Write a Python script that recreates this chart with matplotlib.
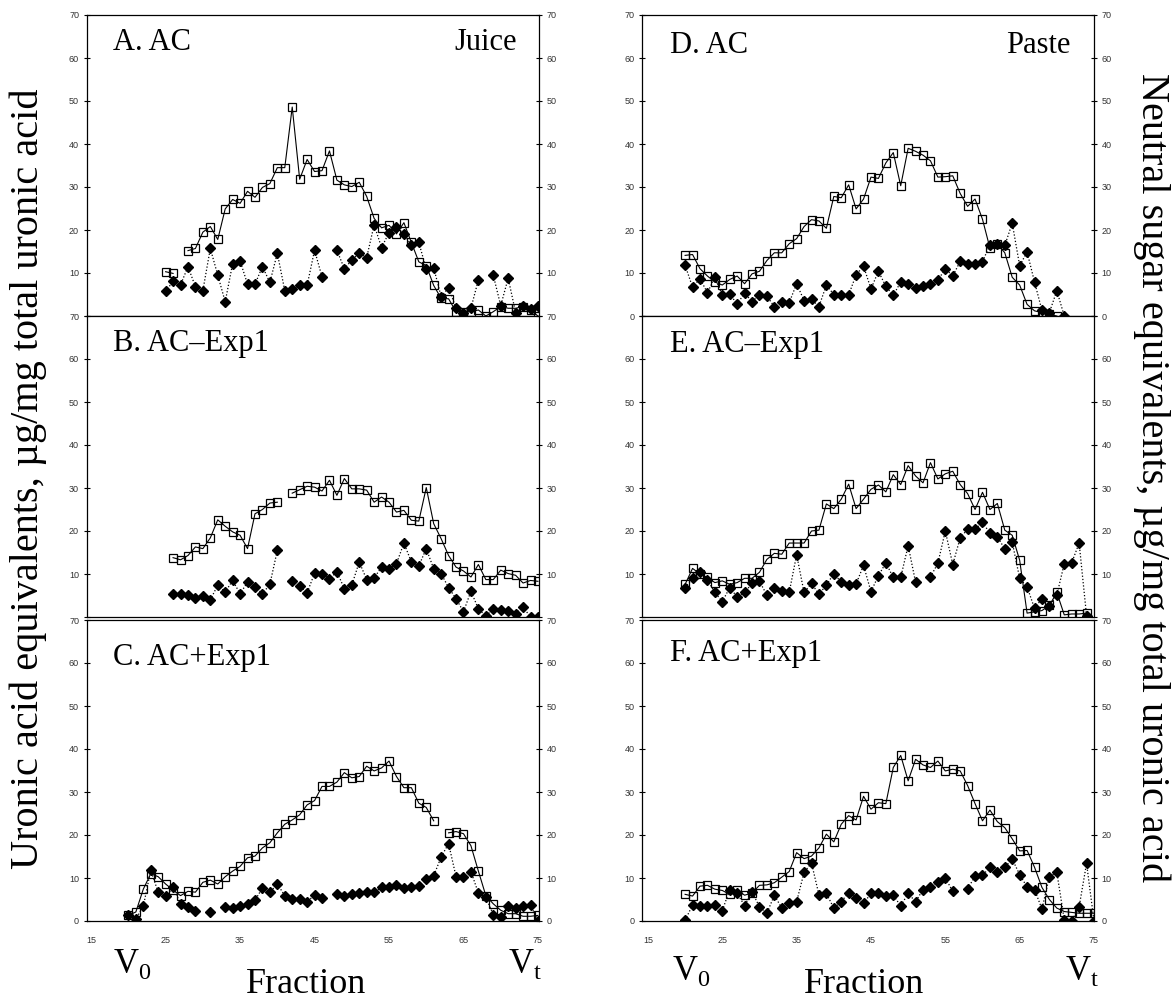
import numpy as np
import matplotlib.pyplot as plt

nan = np.nan

# fractions and values
frac_A = np.arange(25, 76)
uronic_A = [10.3, 9.9, nan, 15.2, 15.7, 19.5, 20.8, 17.8, 24.9, 27.1,
            26.2, 29.0, 27.6, 29.9, 30.8, 34.5, 34.5, 48.6, 31.8, 36.4,
            33.6, 33.8, 38.4, 31.6, 30.5, 30.1, 31.1, 27.8, 22.7, 20.5,
            21.1, 19.1, 21.7, 17.1, 12.6, 11.7, 7.1, 4.1, 4.0, 1.0,
            1.0, 1.0, 1.4, 0.0, 1.0, 2.2, 1.8, 1.8, 2.2, 1.4, 0.0]
neutral_A = [5.7, 8.1, 7.2, 11.5, 6.8, 5.9, 15.7, 9.5, 3.3, 12.2,
             12.8, 7.4, 7.4, 11.5, 7.8, 14.6, 5.9, 6.2, 7.1, 7.1,
             15.3, 9.1, nan, 15.3, 11.0, 13.0, 14.6, 13.6, 21.2, 15.9,
             19.4, 20.8, 19.0, 16.5, 17.1, 10.9, 11.2, 4.5, 6.6, 1.8,
             0.6, 1.8, 8.4, nan, 9.5, 2.4, 8.8, 0.8, 2.3, 1.6, 2.3]

frac_B = np.arange(26, 76)
uronic_B = [13.8, 13.3, 14.3, 16.3, 15.9, 18.4, 22.6, 21.1, 19.8, 19.0,
            15.9, 24.0, 25.0, 26.5, 26.7, nan, 28.8, 29.6, 30.4, 30.2,
            29.3, 31.8, 28.3, 32.2, 29.8, 29.8, 29.5, 26.7, 27.9, 26.7,
            24.4, 24.8, 22.5, 22.3, 30.1, 21.7, 18.2, 14.3, 11.6, 10.7,
            9.3, 12.2, 8.7, 8.7, 10.9, 10.1, 9.7, 7.9, 8.5, 8.3]
neutral_B = [5.3, 5.3, 5.1, 4.5, 5.0, 4.0, 7.4, 5.8, 8.5, 5.4,
             8.1, 7.0, 5.4, 7.6, 15.5, nan, 8.3, 7.2, 5.6, 10.2,
             10.1, 8.9, 10.5, 6.6, 7.4, 12.8, 8.7, 9.1, 11.6, 11.2,
             12.4, 17.2, 12.8, 11.9, 15.9, 11.2, 10.1, 6.8, 4.3, 1.2,
             6.0, 1.9, 0.2, 1.9, 1.6, 1.4, 0.8, 2.3, 0.0, 0.0]

frac_C = np.arange(20, 76)
uronic_C = [1.3, 2.1, 7.4, 11.0, 10.3, 8.6, 7.2, 5.9, 6.9, 6.7,
            9.0, 9.5, 8.6, 10.3, 11.6, 12.7, 14.7, 15.1, 17.0, 18.2,
            20.5, 22.5, 23.5, 24.7, 27.0, 28.0, 31.3, 31.3, 32.3, 34.5,
            33.3, 33.6, 36.0, 34.9, 35.6, 37.2, 33.6, 31.0, 31.0, 27.4,
            26.4, 23.3, nan, 20.5, 20.8, 20.3, 17.5, 11.6, 5.9, 4.0,
            2.5, 1.7, 1.7, 1.1, 1.1, 1.3]
neutral_C = [1.3, 0.5, 3.4, 11.8, 6.7, 5.7, 7.8, 4.0, 3.2, 2.3,
             nan, 2.1, nan, 3.2, 3.1, 3.6, 4.0, 4.8, 7.7, 6.7,
             8.6, 5.9, 5.1, 5.1, 4.4, 6.1, 5.3, nan, 6.3, 5.9,
             6.3, 6.5, 6.8, 6.7, 7.8, 7.8, 8.4, 7.7, 7.8, 8.2,
             9.7, 10.5, 14.9, 18.0, 10.3, 10.3, 11.5, 6.5, 5.5, 1.5,
             0.9, 3.4, 3.1, 3.4, 3.8, 0.0]

frac_D = np.arange(20, 72)
uronic_D = [14.1, 14.3, 11.0, 9.3, 7.9, 7.2, 8.5, 9.3, 7.5, 9.8,
            10.4, 12.9, 14.7, 14.7, 16.8, 18.0, 20.8, 22.4, 22.1, 20.4,
            27.8, 27.5, 30.5, 24.9, 27.2, 32.3, 32.0, 35.6, 38.0, 30.3,
            39.0, 38.3, 37.4, 36.1, 32.3, 32.4, 32.6, 28.5, 25.5, 27.2,
            22.5, 15.8, 16.8, 14.7, 9.0, 7.2, 2.7, 1.2, 0.8, 0.4,
            0.0, nan]
neutral_D = [11.8, 6.7, 8.7, 5.4, 9.0, 4.9, 5.2, 2.7, 5.4, 3.3,
             5.0, 4.6, 2.2, 3.2, 3.1, 7.5, 3.6, 3.9, 2.2, 7.2,
             5.0, 5.0, 4.9, 9.6, 11.6, 6.3, 10.4, 6.9, 4.8, 7.9,
             7.5, 6.4, 6.9, 7.5, 8.3, 11.0, 9.3, 12.7, 12.2, 12.0,
             12.6, 16.6, 16.7, 16.4, 21.6, 11.7, 14.9, 7.9, 1.3, 0.8,
             5.9, 0.0]

frac_E = np.arange(20, 75)
uronic_E = [7.6, 11.3, 10.0, 9.2, 8.0, 8.4, 7.6, 8.0, 9.0, 9.0,
            10.4, 13.4, 14.8, 14.6, 17.2, 17.2, 17.2, 20.0, 20.2, 26.3,
            25.2, 27.4, 30.9, 25.2, 27.4, 29.7, 30.7, 29.1, 33.1, 30.8,
            35.2, 32.8, 31.2, 35.9, 32.1, 33.3, 33.9, 30.8, 28.7, 25.0,
            29.0, 25.0, 26.4, 20.2, 19.0, 13.2, 0.9, 1.2, 1.5, 2.7,
            5.7, 0.5, 0.7, 0.7, 0.9]
neutral_E = [6.8, 9.0, 10.5, 8.6, 5.7, 3.6, 6.8, 4.7, 5.7, 7.8,
             8.3, 5.1, 6.7, 6.0, 5.7, 14.5, 5.7, 7.8, 5.3, 7.4,
             10.1, 8.1, 7.4, 7.7, 12.0, 5.9, 9.6, 12.6, 9.2, 9.2,
             16.6, 8.1, nan, 9.3, 12.5, 20.0, 12.2, 18.4, 20.4, 20.4,
             22.0, 19.5, 18.7, 15.8, 17.4, 9.0, 7.0, 2.0, 4.3, 2.5,
             5.1, 12.4, 12.6, 17.2, 0.3]

frac_F = np.arange(20, 76)
uronic_F = [6.2, 5.8, 8.1, 8.3, 7.4, 7.1, 6.2, 7.3, 6.0, 6.5,
            8.3, 8.4, 8.9, 10.2, 11.5, 15.9, 14.5, 15.1, 17.0, 20.2,
            18.4, 22.5, 24.5, 23.5, 29.0, 26.0, 27.5, 27.3, 35.7, 38.5,
            32.6, 37.6, 36.3, 35.7, 37.2, 34.9, 35.3, 34.9, 31.5, 27.3,
            23.3, 25.8, 23.1, 21.7, 19.1, 16.3, 16.4, 12.5, 7.8, 5.0,
            3.0, 2.2, 2.0, 1.8, 1.8, 1.8]
neutral_F = [0.2, 3.7, 3.5, 3.5, 3.7, 2.4, 7.3, 6.4, 3.6, 6.8,
             3.3, 1.8, 6.0, 3.0, 4.1, 4.5, 11.3, 13.5, 6.1, 6.4,
             3.0, 4.5, 6.6, 5.4, 4.1, 6.4, 6.4, 5.9, 6.0, 3.5,
             6.4, 4.5, 7.3, 7.9, 9.0, 10.0, 6.9, nan, 7.5, 10.4,
             10.6, 12.5, 11.3, 12.5, 14.4, 10.8, 7.9, 7.3, 2.8, 10.3,
             11.3, 0.3, 0.0, 3.3, 13.4, 0.0]

panel_titles = ['A. AC', 'B. AC\u2013Exp1', 'C. AC+Exp1',
                'D. AC', 'E. AC\u2013Exp1', 'F. AC+Exp1']
xtick_values = [15, 25, 35, 45, 55, 65, 75]

plt.rcParams['font.family'] = 'Liberation Sans'
plt.rcParams['mathtext.fontset'] = 'custom'
plt.rcParams['mathtext.rm'] = 'Liberation Serif'
serif = 'Liberation Serif'

fig = plt.figure(figsize=(11.73, 10.01), dpi=100)

W = 1173.0
H = 1001.0
col_left = [86.7 / W, 642 / W]
col_w = 452 / W
row_bottom = [1 - 316 / H, 1 - 617 / H, 1 - 921 / H]
row_h = 301 / H
xlims = [(14.4, 75.1), (14.2, 75.0)]

panels = [
    (frac_A, uronic_A, neutral_A), (frac_B, uronic_B, neutral_B),
    (frac_C, uronic_C, neutral_C), (frac_D, uronic_D, neutral_D),
    (frac_E, uronic_E, neutral_E), (frac_F, uronic_F, neutral_F),
]
# which y tick labels are shown (boundary labels come from the panel below)
shown = [range(10, 80, 10), range(10, 80, 10), range(0, 80, 10),
         range(0, 80, 10), range(10, 70, 10), range(0, 80, 10)]
title_y = [0.884, 0.885, 0.85, 0.875, 0.88, 0.865]

for i, (fr, ur, ne) in enumerate(panels):
    col, row = divmod(i, 3)
    ax = fig.add_axes([col_left[col], row_bottom[row], col_w, row_h])
    ax.plot(fr, ur, color='k', lw=0.8, marker='s', ms=5.5, mfc='none',
            mec='k', mew=0.9, zorder=3)
    ax.plot(fr, ne, color='k', lw=0.9, ls=(0, (1, 1.6)), marker='D',
            ms=5.5, mfc='k', mec='k', zorder=4)
    ax.set_xlim(*xlims[col])
    ax.set_ylim(0, 70)
    yt = list(range(0, 80, 10))
    ax.set_yticks(yt)
    ax.set_yticklabels([str(v) if v in shown[i] else '' for v in yt])
    ax.tick_params(axis='y', direction='inout', length=5, width=0.8,
                   labelsize=6.5, labelcolor='#333333', left=True,
                   right=True, labelleft=True, labelright=True, pad=3)
    ax.set_xticks(xtick_values)
    if row == 2:
        ax.tick_params(axis='x', length=0, labelsize=6.5,
                       labelcolor='#333333', pad=11)
    else:
        ax.tick_params(axis='x', length=0, labelbottom=False)
    for s in ax.spines.values():
        s.set_linewidth(0.9)
    tx = 0.058 if col == 0 else 0.062
    ax.text(tx, title_y[i], panel_titles[i], transform=ax.transAxes,
            family=serif, fontsize=22, va='baseline', ha='left')
    if i == 0:
        ax.text(0.952, title_y[i], 'Juice', transform=ax.transAxes,
                family=serif, fontsize=22, va='baseline', ha='right')
    if i == 3:
        ax.text(0.947, title_y[i], 'Paste', transform=ax.transAxes,
                family=serif, fontsize=22, va='baseline', ha='right')

fig.text(0.024, 0.5215, 'Uronic acid equivalents, \u00b5g/mg total uronic acid',
         rotation=90, family=serif, fontsize=29, ha='center', va='center')
fig.text(0.982, 0.523, 'Neutral sugar equivalents, \u00b5g/mg total uronic acid',
         rotation=270, family=serif, fontsize=29, ha='center', va='center')

for xv0, xvt, xfr, yb in [(113, 508, 306, 973), (672, 1065, 864, 980)]:
    fig.text(xv0 / W, 1 - yb / H, r'V$_{0}$', family=serif, fontsize=25,
             ha='left', va='baseline')
    fig.text(xvt / W, 1 - yb / H, r'V$_{\mathrm{t}}$', family=serif,
             fontsize=25, ha='left', va='baseline')
    fig.text(xfr / W, 1 - 993 / H, 'Fraction', family=serif, fontsize=26,
             ha='center', va='baseline')

fig.savefig('out.png', dpi=100)
